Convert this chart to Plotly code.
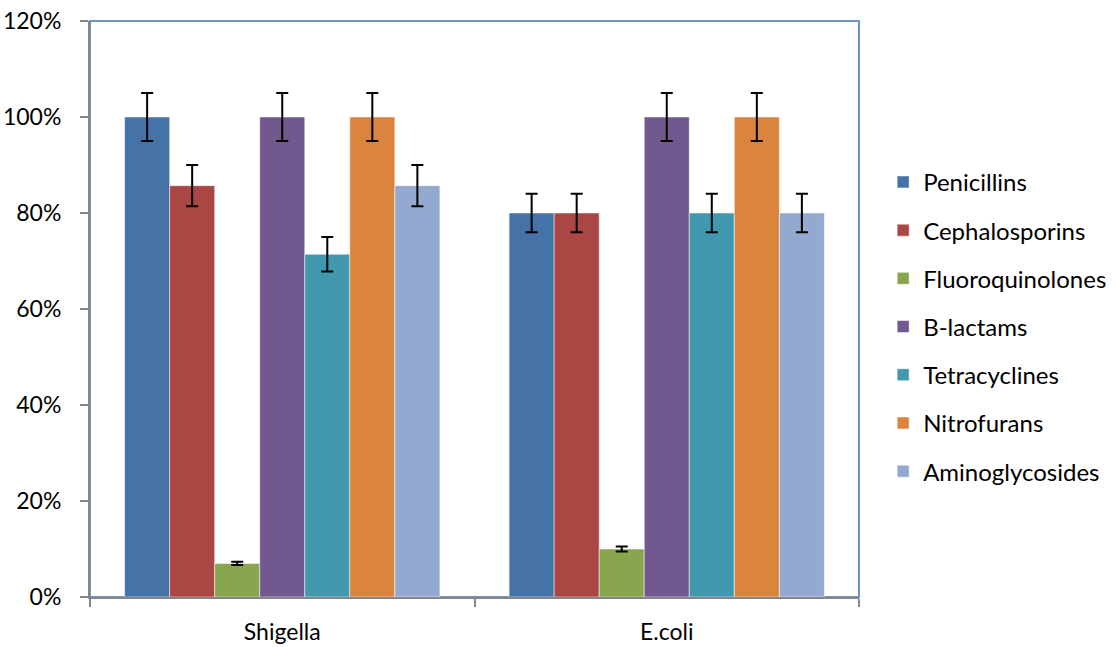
import plotly.graph_objects as go

categories = ["Shigella", "E.coli"]
series_names = ["Penicillins", "Cephalosporins", "Fluoroquinolones", "B-lactams",
                "Tetracyclines", "Nitrofurans", "Aminoglycosides"]
shigella = [1.00, 0.857, 0.07, 1.00, 0.714, 1.00, 0.857]
ecoli = [0.80, 0.80, 0.10, 1.00, 0.80, 1.00, 0.80]
errors_shigella = [0.05, 0.043, 0.0035, 0.05, 0.036, 0.05, 0.043]
errors_ecoli = [0.04, 0.04, 0.005, 0.05, 0.04, 0.05, 0.04]
colors = ["#4572A7", "#AA4643", "#89A54E", "#71588F", "#4198AF", "#DB843D", "#93A9CF"]
y_ticks = [0, 0.2, 0.4, 0.6, 0.8, 1.0, 1.2]

font = "Lato, 'Open Sans', sans-serif"

fig = go.Figure()
for i, name in enumerate(series_names):
    fig.add_trace(go.Bar(
        name=name,
        x=categories,
        y=[shigella[i], ecoli[i]],
        marker=dict(color=colors[i], line=dict(color="rgba(255,255,255,0.5)", width=1)),
        error_y=dict(type="data", array=[errors_shigella[i], errors_ecoli[i]],
                     color="black", thickness=2, width=6),
        legendgroup=name,
    ))

fig.update_layout(
    barmode="group",
    bargap=0.18,
    bargroupgap=0,
    width=1118, height=647,
    margin=dict(l=90, r=259, t=21, b=50, autoexpand=False),
    paper_bgcolor="white", plot_bgcolor="white",
    font=dict(family=font, size=23, color="black"),
    legend=dict(x=1.0314, y=0.469, xanchor="left", yanchor="middle",
                font=dict(family=font, size=24, color="black"),
                traceorder="grouped", tracegroupgap=14, itemwidth=30),
    showlegend=True,
    shapes=[dict(type="rect", xref="paper", yref="paper", x0=0, y0=0, x1=1, y1=1,
                 line=dict(color="#6F93C6", width=2), layer="below")],
)
fig.update_xaxes(showline=True, linecolor="#868686", linewidth=2, mirror=False,
                 ticks="outside", ticklen=8, tickcolor="#868686", tickwidth=2,
                 tickson="boundaries", showgrid=False, automargin=False,
                 ticklabelstandoff=13,
                 tickfont=dict(family=font, size=23, color="black"))
fig.update_yaxes(range=[0, 1.2], tickvals=y_ticks, tickformat=".0%",
                 showline=True, linecolor="#868686", linewidth=2,
                 ticks="outside", ticklen=8, tickcolor="#868686", tickwidth=2,
                 showgrid=False, zeroline=False, automargin=False,
                 ticklabelstandoff=14,
                 tickfont=dict(family=font, size=23, color="black"))

fig.write_html("out.html", config={"displayModeBar": False},
               post_script="document.body.style.margin='0';document.body.style.overflow='hidden';")
